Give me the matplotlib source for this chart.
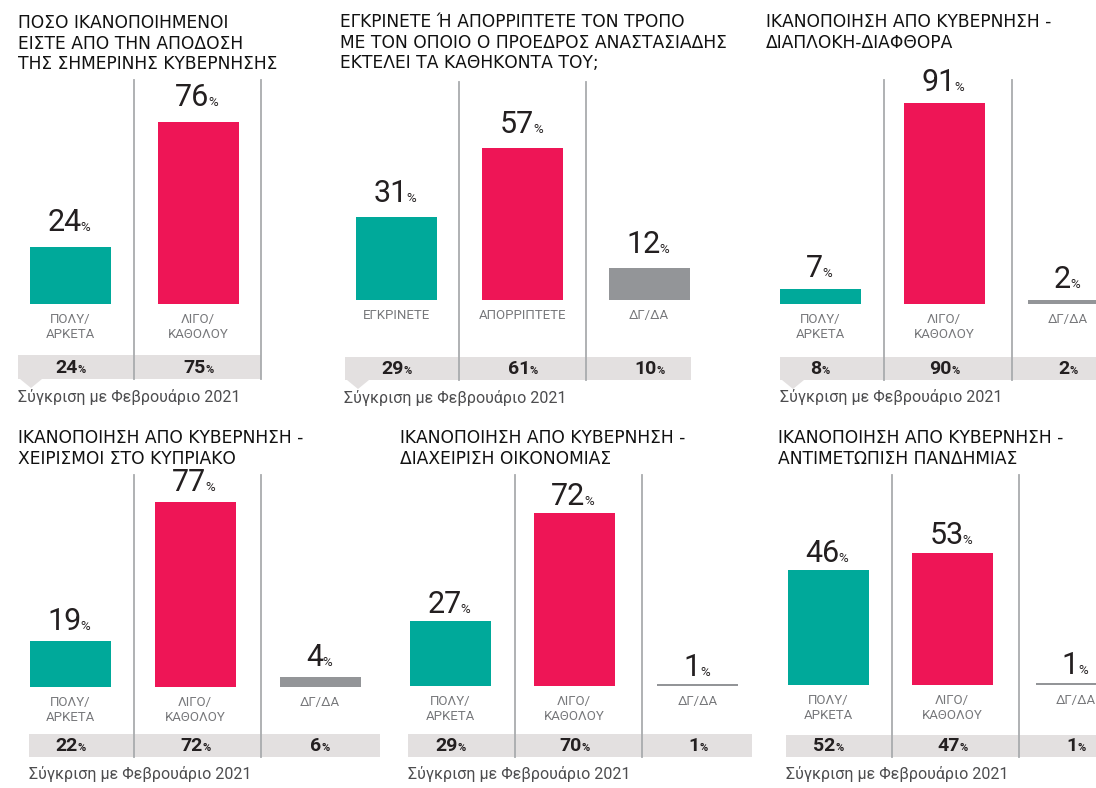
import matplotlib
matplotlib.use("Agg")
import matplotlib.pyplot as plt
from matplotlib.patches import Polygon, Rectangle

W, H = 1096, 788

# ---- data -------------------------------------------------------------
titles = [
    "ΠΟΣΟ ΙΚΑΝΟΠΟΙΗΜΕΝΟΙ\nΕΙΣΤΕ ΑΠΟ ΤΗΝ ΑΠΟΔΟΣΗ\nΤΗΣ ΣΗΜΕΡΙΝΗΣ ΚΥΒΕΡΝΗΣΗΣ",
    "ΕΓΚΡΙΝΕΤΕ Ή ΑΠΟΡΡΙΠΤΕΤΕ ΤΟΝ ΤΡΟΠΟ\nΜΕ ΤΟΝ ΟΠΟΙΟ Ο ΠΡΟΕΔΡΟΣ ΑΝΑΣΤΑΣΙΑΔΗΣ\nΕΚΤΕΛΕΙ ΤΑ ΚΑΘΗΚΟΝΤΑ ΤΟΥ;",
    "ΙΚΑΝΟΠΟΙΗΣΗ ΑΠΟ ΚΥΒΕΡΝΗΣΗ -\nΔΙΑΠΛΟΚΗ-ΔΙΑΦΘΟΡΑ",
    "ΙΚΑΝΟΠΟΙΗΣΗ ΑΠΟ ΚΥΒΕΡΝΗΣΗ -\nΧΕΙΡΙΣΜΟΙ ΣΤΟ ΚΥΠΡΙΑΚΟ",
    "ΙΚΑΝΟΠΟΙΗΣΗ ΑΠΟ ΚΥΒΕΡΝΗΣΗ -\nΔΙΑΧΕΙΡΙΣΗ ΟΙΚΟΝΟΜΙΑΣ",
    "ΙΚΑΝΟΠΟΙΗΣΗ ΑΠΟ ΚΥΒΕΡΝΗΣΗ -\nΑΝΤΙΜΕΤΩΠΙΣΗ ΠΑΝΔΗΜΙΑΣ",
]
cats_sat = ["ΠΟΛΥ/\nΑΡΚΕΤΑ", "ΛΙΓΟ/\nΚΑΘΟΛΟΥ", "ΔΓ/ΔΑ"]
cats_app = ["ΕΓΚΡΙΝΕΤΕ", "ΑΠΟΡΡΙΠΤΕΤΕ", "ΔΓ/ΔΑ"]
footer = "Σύγκριση με Φεβρουάριο 2021"

now_gov = [24, 76]
feb_gov = [24, 75]
now_pres = [31, 57, 12]
feb_pres = [29, 61, 10]
now_corr = [7, 91, 2]
feb_corr = [8, 90, 2]
now_cyp = [19, 77, 4]
feb_cyp = [22, 72, 6]
now_econ = [27, 72, 1]
feb_econ = [29, 70, 1]
now_pand = [46, 53, 1]
feb_pand = [52, 47, 1]

panels_data = [
    (titles[0], cats_sat[:2], now_gov, feb_gov),
    (titles[1], cats_app, now_pres, feb_pres),
    (titles[2], cats_sat, now_corr, feb_corr),
    (titles[3], cats_sat, now_cyp, feb_cyp),
    (titles[4], cats_sat, now_econ, feb_econ),
    (titles[5], cats_sat, now_pand, feb_pand),
]

# ---- layout (pixels) --------------------------------------------------
layout = [
    dict(tx=18, ty=28, c0=70, pitch=128, base=304, ppp=2.39, gap=16,
         seps=[134, 261], stop=80, strip=(18, 261, 355, 379), fx=18, fy=402, tri=True),
    dict(tx=340, ty=27, c0=396, pitch=126.5, base=300, ppp=2.67, gap=15,
         seps=[459, 586], stop=82, strip=(345, 691, 357, 380), fx=344, fy=403, tri=True),
    dict(tx=766, ty=27, c0=820, pitch=124, base=304, ppp=2.21, gap=12,
         seps=[884, 1012], stop=80, strip=(780, 1100, 357, 380), fx=780, fy=402, tri=True),
    dict(tx=18, ty=443, c0=70, pitch=125, base=687, ppp=2.40, gap=11,
         seps=[134, 261], stop=475, strip=(29, 380, 734, 757), fx=29, fy=779, tri=False),
    dict(tx=400, ty=443, c0=450, pitch=124, base=686, ppp=2.40, gap=8,
         seps=[515, 642], stop=475, strip=(408, 752, 734, 757), fx=408, fy=779, tri=False),
    dict(tx=778, ty=443, c0=828, pitch=124, base=685, ppp=2.50, gap=8,
         seps=[892, 1019], stop=475, strip=(786, 1100, 735, 757), fx=786, fy=779, tri=False),
]

bar_colors = ["#00a99a", "#ee1556", "#939598"]
strip_color = "#e3e0e0"
sep_color = "#a9abae"
dark = "#231f20"

TITLE_FONT = ["Liberation Sans Narrow", "DejaVu Sans Condensed", "DejaVu Sans"]
NUM_FONT = ["Roboto", "DejaVu Sans"]
LIGHT_FONT = ["Roboto", "DejaVu Sans"]

fig = plt.figure(figsize=(W / 100, H / 100), dpi=100)
fig.patch.set_facecolor("white")

# overlay axes in pixel coordinates for frames, strips, titles
ov = fig.add_axes([0, 0, 1, 1])
ov.set_xlim(0, W)
ov.set_ylim(H, 0)
ov.axis("off")

for (title, cats, now, feb), L in zip(panels_data, layout):
    for k, line in enumerate(title.split("\n")):
        ov.text(L["tx"], L["ty"] + 20.5 * k, line, fontsize=12.3, family=TITLE_FONT,
                color="#111111", ha="left", va="baseline")

    sl, sr, st, sb = L["strip"]
    ov.add_patch(Rectangle((sl, st), sr - sl, sb - st, color=strip_color, lw=0, zorder=1))
    if L["tri"]:
        ov.add_patch(Polygon([(sl + 2, sb), (sl + 24, sb), (sl + 13, sb + 9)],
                             closed=True, color=strip_color, lw=0))
    for sx in L["seps"]:
        ov.plot([sx, sx], [L["stop"], sb], color=sep_color, lw=1.3, zorder=2)
    ov.text(L["fx"], L["fy"], footer, fontsize=11.5, family=LIGHT_FONT,
            color="#4d4d4f", ha="left", va="baseline")

    # bar axes: x = category index, y = percent
    pitch = L["pitch"]
    hpx = 260
    ax = fig.add_axes([(L["c0"] - pitch / 2) / W, 1 - L["base"] / H, 3 * pitch / W, hpx / H])
    ax.set_xlim(-0.5, 2.5)
    ax.set_ylim(0, hpx / L["ppp"])
    ax.axis("off")
    x = list(range(len(now)))
    ax.bar(x, now, width=81 / pitch, color=bar_colors[:len(now)], linewidth=0)

    for i, v in enumerate(now):
        n = len(str(v))
        dx = (17 * n - 11) / 2
        ax.annotate(str(v), xy=(i, v), xytext=(dx, L["gap"]), textcoords="offset pixels",
                    ha="right", va="baseline", fontsize=22, family=NUM_FONT, color=dark,
                    annotation_clip=False)
        ax.annotate("%", xy=(i, v), xytext=(dx - 1, L["gap"]), textcoords="offset pixels",
                    ha="left", va="baseline", fontsize=9.5, family=NUM_FONT, color=dark,
                    annotation_clip=False)
        for k, line in enumerate(cats[i].split("\n")):
            ax.annotate(line, xy=(i, 0), xytext=(0, -19 - 15 * k), textcoords="offset pixels",
                        ha="center", va="baseline", fontsize=9.5, family=LIGHT_FONT,
                        color="#77787b", annotation_clip=False)

    for i, v in enumerate(feb):
        n = len(str(v))
        dx = (12 * n - 9) / 2
        off = -(sb - 6 - L["base"])
        ax.annotate(str(v), xy=(i, 0), xytext=(dx, off), textcoords="offset pixels",
                    ha="right", va="baseline", fontsize=14, weight="bold", family=NUM_FONT,
                    color=dark, annotation_clip=False)
        ax.annotate("%", xy=(i, 0), xytext=(dx, off), textcoords="offset pixels",
                    ha="left", va="baseline", fontsize=8, weight="bold", family=NUM_FONT,
                    color=dark, annotation_clip=False)

fig.savefig("out.png", dpi=100, facecolor="white")
